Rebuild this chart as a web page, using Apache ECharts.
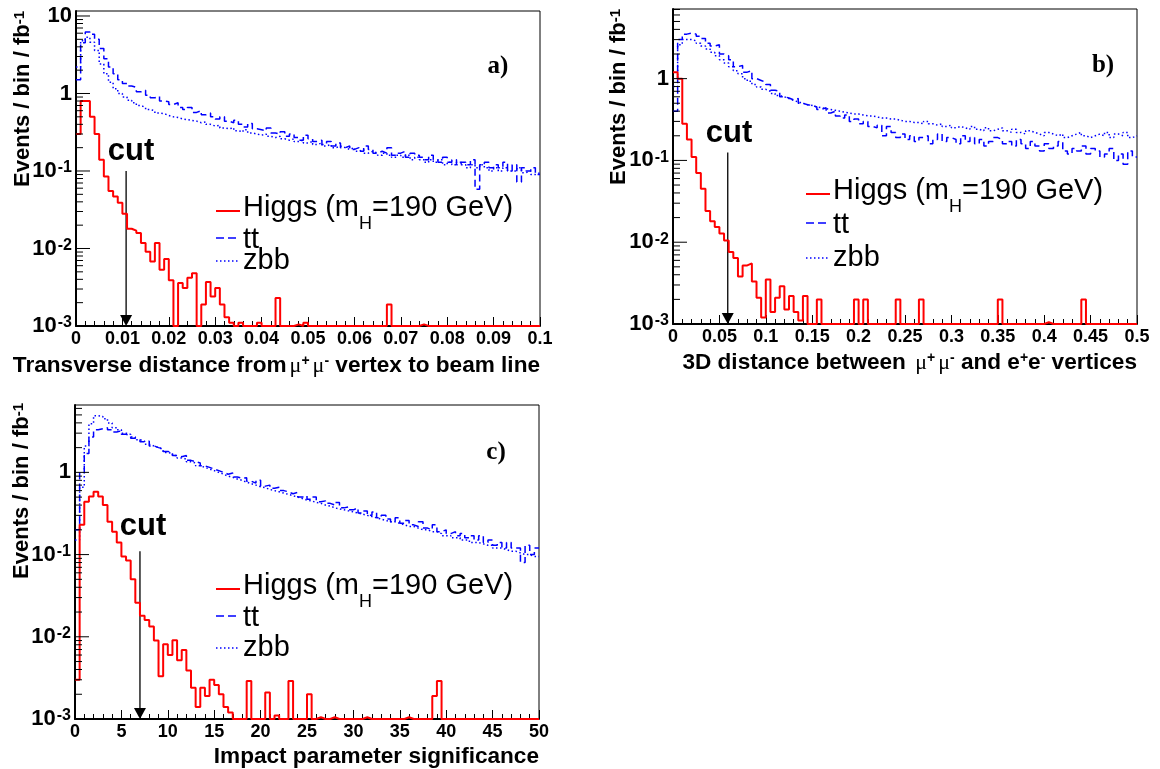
<!DOCTYPE html>
<html>
<head>
<meta charset="utf-8">
<script src="https://cdn.jsdelivr.net/npm/echarts@6/dist/echarts.min.js"></script>
<style>
html,body{margin:0;padding:0;background:#fff;}
#chart{width:1160px;height:769px;}
</style>
</head>
<body>
<div id="chart"></div>
<script>
// ---------------- data (events / bin / fb^-1), 100 bins per panel ----------------
const higgsA = [
 0.3,0.8,0.8,0.5,0.3,0.14,0.085,0.055,0.047,0.039,
 0.028,0.018,0.017,0.0158,0.0118,0.0091,0.0068,0.0118,0.0053,0.0073,
 0.0039,0,0.0036,0.0031,0.0042,0.0048,0,0.0019,0.0037,0.0024,
 0.0031,0.0019,0.0013,0.0011,0,0.0011,0,0,0,0.0011,
 0,0,0,0.0023,0,0,0,0.00105,0,0.0011,
 0,0,0,0,0,0,0,0,0,0,
 0,0,0,0,0,0,0,0.0019,0,0,
 0,0,0,0,0.00105,0,0,0,0,0,
 0,0,0,0,0,0,0,0,0,0,
 0,0,0,0,0,0,0,0,0,0];
const ttA = [
 1.5,4.5,6.2,5.8,5.0,3.8,2.8,2.2,1.8,1.5,
 1.35,1.25,1.2,1.05,1.1,0.95,0.88,0.92,0.8,0.78,
 0.72,0.76,0.66,0.62,0.66,0.57,0.6,0.53,0.56,0.5,
 0.47,0.5,0.44,0.42,0.45,0.4,0.37,0.41,0.35,0.34,
 0.33,0.36,0.31,0.3,0.32,0.28,0.3,0.27,0.25,0.29,
 0.26,0.24,0.25,0.22,0.24,0.21,0.23,0.2,0.21,0.19,
 0.2,0.18,0.21,0.19,0.17,0.18,0.17,0.2,0.16,0.17,
 0.18,0.15,0.17,0.16,0.15,0.14,0.16,0.14,0.13,0.15,
 0.13,0.14,0.12,0.13,0.12,0.14,0.058,0.12,0.13,0.11,
 0.12,0.11,0.13,0.1,0.12,0.072,0.11,0.1,0.11,0.09];
const zbbA = [
 2.2,4.8,5.3,4.6,3.6,2.4,1.8,1.4,1.15,1.0,
 0.9,0.82,0.76,0.7,0.66,0.62,0.6,0.56,0.55,0.52,
 0.5,0.49,0.47,0.46,0.45,0.44,0.42,0.43,0.4,0.38,
 0.39,0.36,0.35,0.36,0.33,0.32,0.34,0.31,0.3,0.29,
 0.3,0.28,0.27,0.28,0.26,0.25,0.26,0.24,0.25,0.23,
 0.24,0.22,0.23,0.21,0.22,0.2,0.21,0.2,0.19,0.2,
 0.18,0.19,0.17,0.18,0.17,0.16,0.17,0.16,0.15,0.16,
 0.15,0.16,0.14,0.15,0.14,0.13,0.14,0.13,0.14,0.12,
 0.13,0.12,0.13,0.12,0.11,0.12,0.11,0.12,0.11,0.1,
 0.11,0.1,0.11,0.1,0.1,0.11,0.095,0.1,0.09,0.095];

const higgsB = [
 1.2,1.0,0.28,0.18,0.11,0.07,0.045,0.024,0.018,0.0153,
 0.0128,0.0105,0.0076,0.0064,0.0038,0.0052,0.0055,0.0033,0.0021,0.0012,
 0.0035,0.0014,0.0021,0.0029,0.0015,0.0022,0.0014,0.0011,0.0022,0,
 0,0.002,0,0,0,0,0,0,0,0.002,
 0,0.002,0,0,0,0,0,0,0.002,0,
 0,0,0,0.002,0,0,0,0,0,0,
 0,0,0,0,0,0,0,0,0,0,
 0.002,0,0,0,0,0,0,0,0,0,
 0.00105,0,0,0,0,0,0,0,0.002,0,
 0,0,0,0,0,0,0,0,0,0];
const ttB = [
 0.4,3.0,3.5,3.6,3.5,3.3,3.1,2.7,2.5,2.6,
 2.0,1.9,1.7,1.4,1.45,1.2,1.25,1.0,0.95,0.9,
 0.85,0.72,0.7,0.6,0.58,0.55,0.57,0.5,0.48,0.47,
 0.45,0.42,0.44,0.38,0.4,0.35,0.33,0.36,0.3,0.32,
 0.28,0.3,0.26,0.25,0.27,0.2,0.26,0.22,0.19,0.21,
 0.18,0.2,0.17,0.19,0.2,0.16,0.18,0.21,0.17,0.19,
 0.18,0.16,0.2,0.17,0.19,0.16,0.18,0.15,0.17,0.19,
 0.18,0.16,0.17,0.15,0.18,0.16,0.14,0.17,0.15,0.13,
 0.16,0.14,0.15,0.17,0.13,0.12,0.14,0.13,0.15,0.12,
 0.14,0.13,0.11,0.12,0.14,0.1,0.12,0.09,0.13,0.11];
const zbbB = [
 0.8,2.6,3.0,3.0,2.9,2.7,2.5,2.3,2.1,1.9,
 1.7,1.55,1.4,1.25,1.15,1.0,0.93,0.85,0.79,0.74,
 0.7,0.66,0.62,0.6,0.57,0.54,0.52,0.5,0.48,0.47,
 0.45,0.44,0.43,0.42,0.41,0.4,0.39,0.38,0.37,0.37,
 0.36,0.35,0.35,0.34,0.33,0.33,0.32,0.32,0.31,0.3,
 0.3,0.29,0.29,0.28,0.3,0.28,0.27,0.28,0.26,0.27,
 0.25,0.26,0.25,0.24,0.26,0.24,0.23,0.25,0.23,0.24,
 0.25,0.23,0.22,0.24,0.22,0.21,0.23,0.22,0.21,0.2,
 0.22,0.21,0.2,0.21,0.19,0.2,0.21,0.22,0.2,0.19,
 0.2,0.21,0.2,0.22,0.19,0.21,0.2,0.22,0.19,0.2];

const higgsC = [
 0.003,0.23,0.44,0.51,0.58,0.51,0.40,0.25,0.19,0.14,
 0.095,0.085,0.05,0.026,0.018,0.016,0.0133,0.009,0.0033,0.0081,
 0.006,0.0091,0.0052,0.0069,0.0039,0.0024,0.0014,0.0024,0.0019,0.003,
 0.0026,0.002,0.0014,0.0012,0,0,0,0.0029,0,0,
 0,0.0021,0,0.0011,0,0,0.0029,0,0,0,
 0.002,0,0.00105,0,0,0.00105,0,0,0,0,
 0,0,0.00105,0,0,0,0,0,0,0,
 0,0.00105,0,0,0,0,0,0.0019,0.0029,0,
 0,0,0,0,0,0,0,0,0,0,
 0,0,0,0,0,0,0,0,0,0];
const ttC = [
 0.2,1.0,1.7,2.7,3.3,3.4,3.5,3.3,3.1,3.2,
 2.9,2.8,2.6,2.5,2.35,2.4,2.1,2.0,1.95,1.8,
 1.75,1.6,1.55,1.6,1.4,1.35,1.3,1.2,1.15,1.1,
 1.05,1.0,0.95,0.98,0.88,0.85,0.86,0.78,0.74,0.8,
 0.68,0.7,0.64,0.66,0.6,0.58,0.55,0.57,0.5,0.52,
 0.47,0.5,0.44,0.45,0.42,0.4,0.43,0.37,0.38,0.35,
 0.37,0.32,0.34,0.3,0.33,0.28,0.3,0.27,0.25,0.28,
 0.24,0.26,0.23,0.22,0.25,0.21,0.2,0.23,0.19,0.2,
 0.18,0.19,0.17,0.18,0.16,0.17,0.15,0.17,0.14,0.15,
 0.13,0.14,0.12,0.14,0.12,0.12,0.08,0.13,0.1,0.12];
const zbbC = [
 0.15,0.66,2.1,3.9,4.9,4.8,4.5,4.0,3.5,3.3,
 3.0,2.9,2.7,2.5,2.4,2.2,2.1,2.0,1.9,1.75,
 1.7,1.6,1.5,1.45,1.35,1.3,1.2,1.15,1.1,1.05,
 1.0,0.95,0.9,0.87,0.83,0.8,0.76,0.73,0.7,0.67,
 0.65,0.62,0.6,0.58,0.56,0.54,0.52,0.5,0.48,0.46,
 0.45,0.43,0.42,0.4,0.39,0.37,0.36,0.35,0.34,0.33,
 0.32,0.31,0.3,0.29,0.28,0.27,0.26,0.25,0.25,0.24,
 0.23,0.22,0.22,0.21,0.2,0.2,0.19,0.19,0.18,0.17,
 0.17,0.16,0.16,0.15,0.15,0.14,0.14,0.135,0.13,0.13,
 0.12,0.12,0.115,0.11,0.11,0.105,0.1,0.1,0.095,0.095];

// axis ranges / ticks
const xMax = [0.1, 0.5, 50];
const xLabelStep = [0.01, 0.05, 5];
const yMin = 0.001;
const yMax = [11.6, 7.1, 6.6];
const cutValue = [0.0108, 0.059, 7];
const cutArrowTop = [0.1, 0.125, 0.11];
const seriesNames = ['Higgs (m_H=190 GeV)', 'tt', 'zbb'];
const panelTags = ['a)', 'b)', 'c)'];
const xTitles = [
 '{t|Transverse distance from}{m|μ}{s|+}{m|μ}{s|-}{t| vertex to beam line}',
 '{t|3D distance between }{m|μ}{s|+}{m|μ}{s|-}{t| and e}{s|+}{t|e}{s|-}{t| vertices}',
 '{t|Impact parameter significance}'
];
const yTitle = '{t|Events / bin / fb}{s|-1}';

const panels = [
 {higgs: higgsA, tt: ttA, zbb: zbbA},
 {higgs: higgsB, tt: ttB, zbb: zbbB},
 {higgs: higgsC, tt: ttC, zbb: zbbC}
];

// ---------------- layout ----------------
const grids = [
 {left: 76, top: 11, width: 464, height: 315},
 {left: 673, top: 9, width: 464, height: 315},
 {left: 75, top: 405, width: 464, height: 314}
];
const SANS = 'Liberation Sans';
const SERIF = 'Liberation Serif';

function stepData(vals, xmax) {
  const w = xmax / vals.length;
  const out = vals.map((v, i) => [i * w, Math.max(v, yMin)]);
  out.push([xmax, Math.max(vals[vals.length - 1], yMin)]);
  return out;
}
function logTickValues(ymax) {
  const out = [];
  for (let e = -3; e <= 1; e++) {
    for (let m = 1; m <= 9; m++) {
      const v = Number((m * Math.pow(10, e)).toPrecision(6));
      if (v <= ymax * 1.0001) out.push([0, v, m]);
    }
  }
  return out;
}

const xAxes = [], yAxes = [], series = [];
grids.forEach((g, p) => {
  xAxes.push({
    type: 'value', gridIndex: p, min: 0, max: xMax[p], interval: xLabelStep[p],
    axisLine: {show: true, onZero: false, lineStyle: {color: '#000', width: 2}},
    axisTick: {show: true, inside: true, length: 9, lineStyle: {color: '#000', width: 1}},
    minorTick: {show: true, splitNumber: 5, length: 5, lineStyle: {color: '#000', width: 1}},
    splitLine: {show: false}, minorSplitLine: {show: false},
    axisLabel: {show: true, margin: 4, color: '#000', fontFamily: SANS, fontWeight: 'bold', fontSize: 18,
      showMinLabel: true, showMaxLabel: true, hideOverlap: false}
  });
  yAxes.push({
    type: 'log', logBase: 10, gridIndex: p, min: yMin, max: yMax[p],
    axisLine: {show: true, onZero: false, lineStyle: {color: '#000', width: 2}},
    axisTick: {show: false}, minorTick: {show: false},
    splitLine: {show: false},
    axisLabel: {
      show: true, margin: 4, color: '#000', showMaxLabel: true, showMinLabel: true, hideOverlap: false,
      formatter: function (v) {
        const e = Math.round(Math.log10(v));
        if (Math.abs(v / Math.pow(10, e) - 1) > 1e-6) return '';
        if (e === 0) return '{b|1}';
        if (e === 1) return '{b|10}';
        return '{b|10}{s|' + e + '}';
      },
      rich: {
        b: {fontFamily: SANS, fontWeight: 'bold', fontSize: 22, color: '#000', verticalAlign: 'middle'},
        s: {fontFamily: SANS, fontWeight: 'bold', fontSize: 16, color: '#000', verticalAlign: 'top', padding: [0, 0, 0, 1]}
      }
    }
  });
  const d = panels[p];
  series.push({
    name: seriesNames[1], type: 'line', xAxisIndex: p, yAxisIndex: p, step: 'end', symbol: 'none',
    clip: false, z: 3, data: stepData(d.tt, xMax[p]),
    lineStyle: {color: '#0000ff', width: 1.5, type: [7, 4]}
  });
  series.push({
    name: seriesNames[2], type: 'line', xAxisIndex: p, yAxisIndex: p, step: 'end', symbol: 'none',
    clip: false, z: 3, data: stepData(d.zbb, xMax[p]),
    lineStyle: {color: '#0000ff', width: 1.5, type: [1.5, 2.5]}
  });
  series.push({
    name: seriesNames[0], type: 'line', xAxisIndex: p, yAxisIndex: p, step: 'end', symbol: 'none',
    clip: false, z: 4, data: stepData(d.higgs, xMax[p]),
    lineStyle: {color: '#ff0000', width: 2}
  });
  // log-axis major/minor ticks, drawn through the axis scale
  series.push({
    type: 'custom', xAxisIndex: p, yAxisIndex: p, clip: false, silent: true, z: 5,
    data: logTickValues(yMax[p]),
    renderItem: function (params, api) {
      const pt = api.coord([api.value(0), api.value(1)]);
      const len = api.value(2) === 1 ? 14 : 7;
      return {type: 'line', shape: {x1: pt[0], y1: pt[1], x2: pt[0] + len, y2: pt[1]},
        style: {stroke: '#000', lineWidth: 1}};
    }
  });
});

// ---------------- static annotations ----------------
const graphics = [];
const yTitlePos = [[23, 11], [619, 9], [22, 403]];
const xTitlePos = [[540, 366], [1137, 363], [539, 757]];
const tagPos = [[498, 67], [1103, 66], [496, 453]];
const legendPos = [  // [lineX0, textX, higgsBaseline, ttBaseline, zbbBaseline]
  [216, 243, 217, 249, 270],
  [806, 833, 200, 234, 267],
  [216, 243, 595, 627, 657]
];
const cutTextPos = [[131, 151], [729, 133], [143, 526]];

for (let p = 0; p < 3; p++) {
  graphics.push({
    type: 'text', x: yTitlePos[p][0], y: yTitlePos[p][1], rotation: Math.PI / 2, silent: true,
    style: {text: yTitle, align: 'right', verticalAlign: 'middle', fill: '#000',
      rich: {
        t: {fontFamily: SANS, fontWeight: 'bold', fontSize: 22, fill: '#000', verticalAlign: 'bottom'},
        s: {fontFamily: SANS, fontWeight: 'bold', fontSize: 15, fill: '#000', verticalAlign: 'top'}
      }}
  });
  graphics.push({
    type: 'text', x: xTitlePos[p][0], y: xTitlePos[p][1], silent: true,
    style: {text: xTitles[p], align: 'right', verticalAlign: 'middle', fill: '#000',
      rich: {
        t: {fontFamily: SANS, fontWeight: 'bold', fontSize: 22.6, fill: '#000', verticalAlign: 'bottom'},
        m: {fontFamily: SERIF, fontSize: 22, fill: '#000', verticalAlign: 'bottom', padding: [0, 0, 0, 3]},
        s: {fontFamily: SANS, fontWeight: 'bold', fontSize: 14, fill: '#000', verticalAlign: 'top'}
      }}
  });
  graphics.push({
    type: 'text', x: tagPos[p][0], y: tagPos[p][1], silent: true,
    style: {text: panelTags[p], align: 'center', verticalAlign: 'middle', fill: '#000',
      font: 'bold 25px "' + SERIF + '"'}
  });
  // legend
  const L = legendPos[p];
  const lgRich = {
    a: {fontFamily: SANS, fontSize: 29, fill: '#000', verticalAlign: 'top'},
    h: {fontFamily: SANS, fontSize: 18, fill: '#000', verticalAlign: 'top', padding: [22, 0, 0, 0]}
  };
  const higgsLabel = '{a|Higgs (m}{h|H}{a|=190 GeV)}';
  const lg = [[higgsLabel, L[2], 6, {stroke: '#ff0000', lineWidth: 2}],
              ['{a|tt}', L[3], 11, {stroke: '#0000ff', lineWidth: 1.5, lineDash: [8, 4]}],
              ['{a|zbb}', L[4], 9, {stroke: '#0000ff', lineWidth: 1.5, lineDash: [1.5, 2.5]}]];
  lg.forEach(function (it) {
    const base = it[1];
    graphics.push({type: 'text', x: L[1], y: base - 24, silent: true,
      style: {text: it[0], align: 'left', verticalAlign: 'top', rich: lgRich}});
    graphics.push({type: 'line', silent: true,
      shape: {x1: L[0], y1: base - it[2], x2: L[0] + 24, y2: base - it[2]}, style: it[3]});
  });
  graphics.push({
    type: 'text', x: cutTextPos[p][0], y: cutTextPos[p][1], silent: true,
    style: {text: 'cut', align: 'center', verticalAlign: 'middle', fill: '#000',
      font: 'bold 31px "' + SANS + '"'}
  });
}

const chart = echarts.init(document.getElementById('chart'), null, {renderer: 'canvas'});
chart.setOption({
  animation: false,
  backgroundColor: '#fff',
  grid: grids.map(g => Object.assign({show: true, borderColor: '#000', borderWidth: 1,
    backgroundColor: 'transparent', containLabel: false, outerBoundsMode: 'none'}, g)),
  xAxis: xAxes,
  yAxis: yAxes,
  series: series,
  graphic: graphics
});

// cut arrows placed through the axis scales
const arrows = [];
for (let p = 0; p < 3; p++) {
  const top = chart.convertToPixel({gridIndex: p}, [cutValue[p], cutArrowTop[p]]);
  const bot = chart.convertToPixel({gridIndex: p}, [cutValue[p], yMin]);
  const hh = 11, hw = 6;
  arrows.push({type: 'line', silent: true,
    shape: {x1: top[0], y1: top[1], x2: bot[0], y2: bot[1] - hh},
    style: {stroke: '#000', lineWidth: 1.3}});
  arrows.push({type: 'polygon', silent: true,
    shape: {points: [[bot[0] - hw, bot[1] - hh], [bot[0] + hw, bot[1] - hh], [bot[0], bot[1]]]},
    style: {fill: '#000'}});
}
chart.setOption({graphic: graphics.concat(arrows)});
</script>
</body>
</html>
